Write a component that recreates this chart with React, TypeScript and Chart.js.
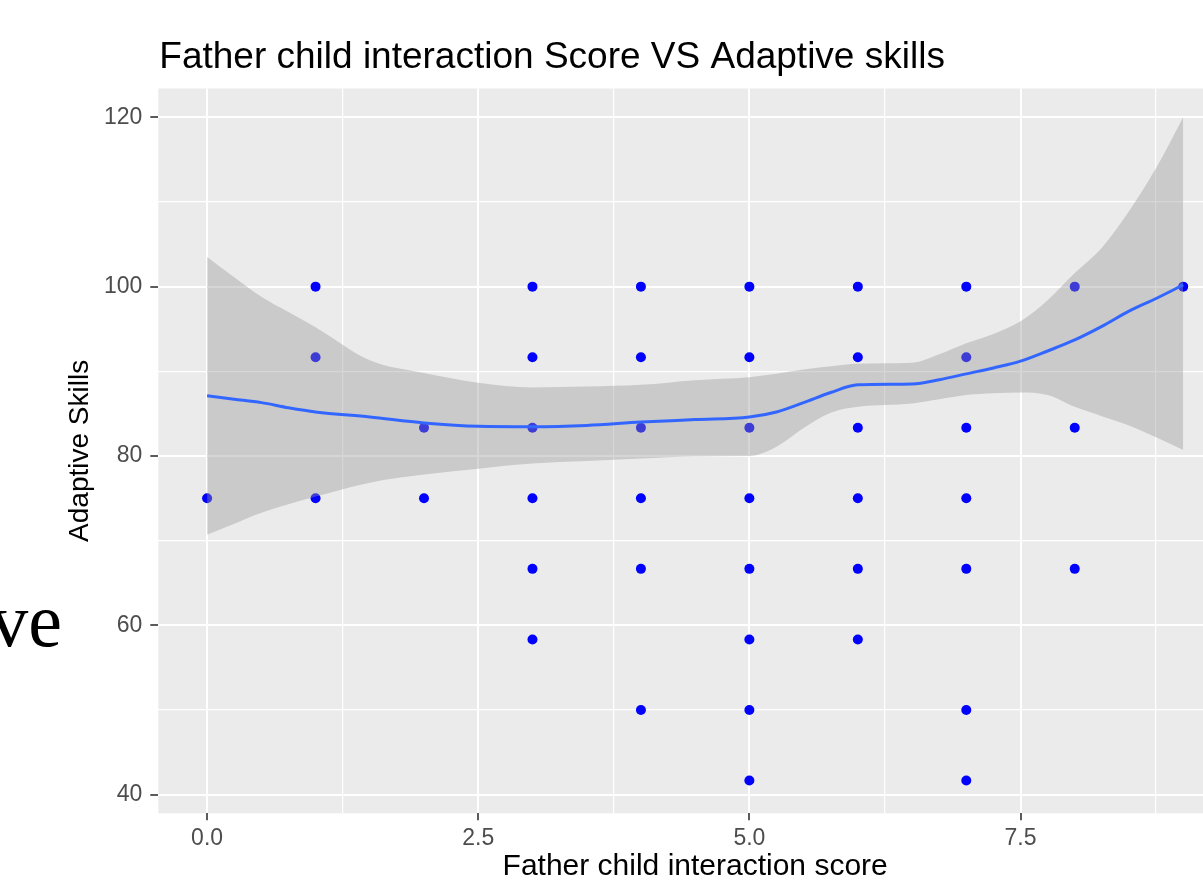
import React, { useEffect, useRef } from "react";
import { Chart, registerables } from "chart.js";

Chart.register(...registerables);

// ---- Data ----
const titleText = "Father child interaction Score VS Adaptive skills";
const xAxisTitle = "Father child interaction score";
const yAxisTitle = "Adaptive Skills";
const strayText = "ve";

const scoreValues = [0, 1, 2, 3, 4, 5, 6, 7, 8, 9];
const adaptiveByScore = [
  [75],
  [100, 91.67, 75],
  [83.33, 75],
  [100, 91.67, 83.33, 75, 66.67, 58.33],
  [100, 91.67, 83.33, 75, 66.67, 50],
  [100, 91.67, 83.33, 75, 66.67, 58.33, 50, 41.67],
  [100, 91.67, 83.33, 75, 66.67, 58.33],
  [100, 91.67, 83.33, 75, 66.67, 50, 41.67],
  [100, 83.33, 66.67],
  [100],
];

const smoothX = [0, 0.25, 0.5, 0.75, 1, 1.5, 2, 2.5, 3, 3.5, 4, 4.5, 5, 5.25, 5.5, 5.75, 6, 6.5, 6.75, 7, 7.25, 7.5, 7.75, 8, 8.25, 8.5, 8.75, 9];
const smoothFit = [87.1, 86.7, 86.3, 85.7, 85.2, 84.6, 83.9, 83.5, 83.45, 83.6, 84.0, 84.3, 84.6, 85.2, 86.3, 87.5, 88.4, 88.5, 89.0, 89.7, 90.4, 91.2, 92.4, 93.7, 95.3, 97.1, 98.6, 100.2];
const smoothUpper = [103.5, 101.1, 98.8, 97.0, 95.2, 91.3, 89.8, 88.65, 88.1, 88.2, 88.4, 88.95, 89.3, 89.7, 90.2, 90.6, 90.9, 91.0, 92.0, 93.3, 94.4, 95.9, 98.4, 101.6, 104.6, 108.9, 114.0, 120.0];
const smoothLower = [70.7, 72.0, 73.3, 74.3, 75.2, 76.85, 77.8, 78.5, 79.1, 79.4, 79.7, 79.95, 80.0, 81.1, 83.3, 85.1, 85.8, 86.2, 86.7, 87.2, 87.4, 87.5, 87.2, 85.8, 84.7, 83.6, 82.2, 80.7];

const xMin = -0.45;
const xMax = 9.45;
const yMin = 37.8;
const yMax = 123.4;

const FONT = '"Liberation Sans", Arial, Helvetica, sans-serif';

const panelPlugin = {
  id: "panelAndText",
  beforeDraw(chart: any) {
    const { ctx, chartArea } = chart;
    ctx.save();
    ctx.fillStyle = "#EBEBEB";
    ctx.fillRect(chartArea.left, chartArea.top, chartArea.right - chartArea.left, chartArea.bottom - chartArea.top);
    ctx.restore();
  },
  afterDraw(chart: any) {
    const { ctx, chartArea } = chart;
    ctx.save();
    ctx.fillStyle = "#000000";
    ctx.font = `37px ${FONT}`;
    ctx.textAlign = "left";
    ctx.textBaseline = "alphabetic";
    ctx.fillText(titleText, chartArea.left + 1, 68);
    ctx.font = `76px "Liberation Serif", "DejaVu Serif", serif`;
    ctx.textAlign = "right";
    ctx.fillText(strayText, 62, 646);
    ctx.restore();
  },
};

function isMultiple(v: number, step: number) {
  const r = Math.abs(v / step - Math.round(v / step));
  return r < 1e-6;
}

export default function App() {
  const canvasRef = useRef<HTMLCanvasElement | null>(null);

  useEffect(() => {
    if (!canvasRef.current) return;
    const points: { x: number; y: number }[] = [];
    scoreValues.forEach((s, i) => {
      adaptiveByScore[i].forEach((v) => points.push({ x: s, y: v }));
    });
    const fitData = smoothX.map((x, i) => ({ x, y: smoothFit[i] }));
    const upData = smoothX.map((x, i) => ({ x, y: smoothUpper[i] }));
    const loData = smoothX.map((x, i) => ({ x, y: smoothLower[i] }));

    const chart = new Chart(canvasRef.current, {
      type: "line",
      data: {
        datasets: [
          {
            label: "loess",
            data: fitData,
            borderColor: "#3366FF",
            borderWidth: 3,
            pointRadius: 0,
            fill: false,
            cubicInterpolationMode: "monotone",
            order: 0,
          },
          {
            label: "lower",
            data: loData,
            borderWidth: 0,
            borderColor: "rgba(0,0,0,0)",
            pointRadius: 0,
            fill: false,
            cubicInterpolationMode: "monotone",
            order: 2,
          },
          {
            label: "upper",
            data: upData,
            borderWidth: 0,
            borderColor: "rgba(0,0,0,0)",
            backgroundColor: "rgba(153,153,153,0.4)",
            pointRadius: 0,
            fill: "-1",
            cubicInterpolationMode: "monotone",
            order: 1,
          },
          {
            label: "points",
            data: points,
            showLine: false,
            pointRadius: 5,
            pointBackgroundColor: "#0000FF",
            pointBorderWidth: 0,
            pointBorderColor: "#0000FF",
            order: 3,
          },
        ],
      },
      options: {
        responsive: false,
        animation: false,
        events: [],
        layout: { padding: { left: 66, top: 88.5, right: 8, bottom: 0 } },
        plugins: {
          legend: { display: false },
          title: { display: false },
          tooltip: { enabled: false },
        },
        scales: {
          x: {
            type: "linear",
            min: xMin,
            max: xMax,
            afterFit: (s: any) => {
              s.height = 882 - 813.3;
            },
            border: { display: false },
            grid: {
              color: "#FFFFFF",
              lineWidth: (c: any) => (isMultiple(c.tick.value, 2.5) ? 2 : 1.2),
              tickColor: (c: any) => (isMultiple(c.tick.value, 2.5) ? "#333333" : "rgba(0,0,0,0)"),
              tickLength: 7,
              tickWidth: 1.6,
            },
            ticks: {
              stepSize: 1.25,
              includeBounds: false,
              autoSkip: false,
              maxRotation: 0,
              padding: 5,
              color: "#4D4D4D",
              font: { family: FONT, size: 23 },
              callback: (v: any) => (isMultiple(Number(v), 2.5) ? Number(v).toFixed(1) : ""),
            },
            title: {
              display: true,
              text: xAxisTitle,
              color: "#000000",
              font: { family: FONT, size: 30, lineHeight: 1 },
              padding: { top: 0, bottom: 0 },
            },
          },
          y: {
            type: "linear",
            min: yMin,
            max: yMax,
            afterFit: (s: any) => {
              s.width = 158.3 - 66;
            },
            border: { display: false },
            grid: {
              color: "#FFFFFF",
              lineWidth: (c: any) => (isMultiple(c.tick.value, 20) ? 2 : 1.2),
              tickColor: (c: any) => (isMultiple(c.tick.value, 20) ? "#333333" : "rgba(0,0,0,0)"),
              tickLength: 8,
              tickWidth: 1.6,
            },
            ticks: {
              stepSize: 10,
              includeBounds: false,
              autoSkip: false,
              padding: 8,
              color: "#4D4D4D",
              font: { family: FONT, size: 23 },
              callback: (v: any) => (isMultiple(Number(v), 20) ? String(Math.round(Number(v))) : ""),
            },
            title: {
              display: true,
              text: yAxisTitle,
              color: "#000000",
              font: { family: FONT, size: 28, lineHeight: 1 },
              padding: { top: 0, bottom: 0 },
            },
          },
        },
      },
      plugins: [panelPlugin],
    });
    return () => chart.destroy();
  }, []);

  return (
    <div
      style={{
        position: "absolute",
        left: 0,
        top: 0,
        width: 1203,
        height: 882,
        overflow: "hidden",
        background: "#FFFFFF",
      }}
    >
      <canvas ref={canvasRef} width={1240} height={882} style={{ display: "block" }} />
    </div>
  );
}
